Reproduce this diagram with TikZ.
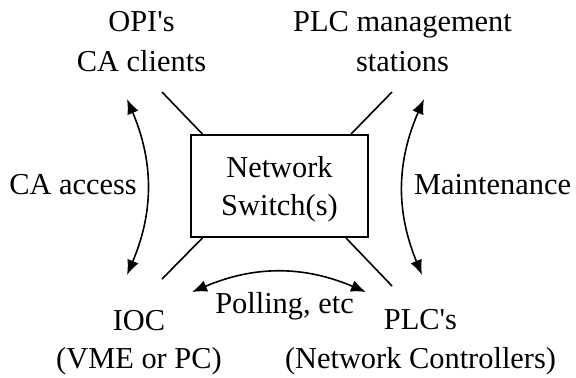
\documentclass[tikz,border=0pt]{standalone}
\usepackage{fontspec}
\setmainfont{Liberation Serif}
\usetikzlibrary{arrows.meta}
\tikzset{arrow/.style={<->, >={Latex[length=7.5pt,width=6pt]}, line width=0.8pt}}
\tikzset{lbl/.style={anchor=base, inner sep=0pt, align=center, font=\fontsize{15.2}{20}\selectfont}}
\tikzset{wire/.style={line width=0.8pt}}
\newcommand{\apos}{\textquotesingle}

\begin{document}
\begin{tikzpicture}[x=0.5pt, y=-0.5pt]
      \useasboundingbox (0, 0) rectangle (576, 377);

      \node[lbl] (OPI) at (141.5, 71) {OPI\apos s\\CA clients};
      \node[lbl] (PLCM) at (402.5, 71) {PLC management\\stations};
      \node[lbl, font=\fontsize{15.2}{19}\selectfont] (IOC) at (139, 368) {IOC\\(VME or PC)};
      \node[lbl, font=\fontsize{15.2}{19.5}\selectfont] (PLC) at (420.5, 368) {PLC\apos s\\(Network Controllers)};

      \node[draw, line width=1pt, minimum width=88.5pt, minimum height=51pt, inner sep=0pt, text depth=0pt,
            align=center, font=\fontsize{15.2}{19}\selectfont] (SW) at (279.5, 186) {Network\\Switch(s)};

      \coordinate (opiw) at (162, 92);
      \coordinate (plcmw) at (392, 92);
      \coordinate (iocw) at (162, 279);
      \coordinate (plcw) at (392, 286);

      \draw[wire] (opiw) -- (SW.146);
      \draw[wire] (plcmw) -- (SW.36);
      \draw[wire] (iocw) -- (SW.214);
      \draw[wire] (plcw) -- (SW.322);

      \coordinate (ca1) at (127, 99);
      \coordinate (ca2) at (127, 275);
      \coordinate (mt1) at (424, 99);
      \coordinate (mt2) at (422, 275);
      \coordinate (po1) at (192, 292);
      \coordinate (po2) at (366, 292);

      \draw[arrow] (ca1) to[bend left=23] (ca2);
      \draw[arrow] (mt1) to[bend right=23] (mt2);
      \draw[arrow] (po1) to[bend left=23] (po2);

      \node[lbl] (ca) at (73, 194) {CA access};
      \node[lbl] (mt) at (492.5, 194) {Maintenance};
      \node[lbl] (po) at (284.5, 313) {Polling, etc};
    \end{tikzpicture}
\end{document}
